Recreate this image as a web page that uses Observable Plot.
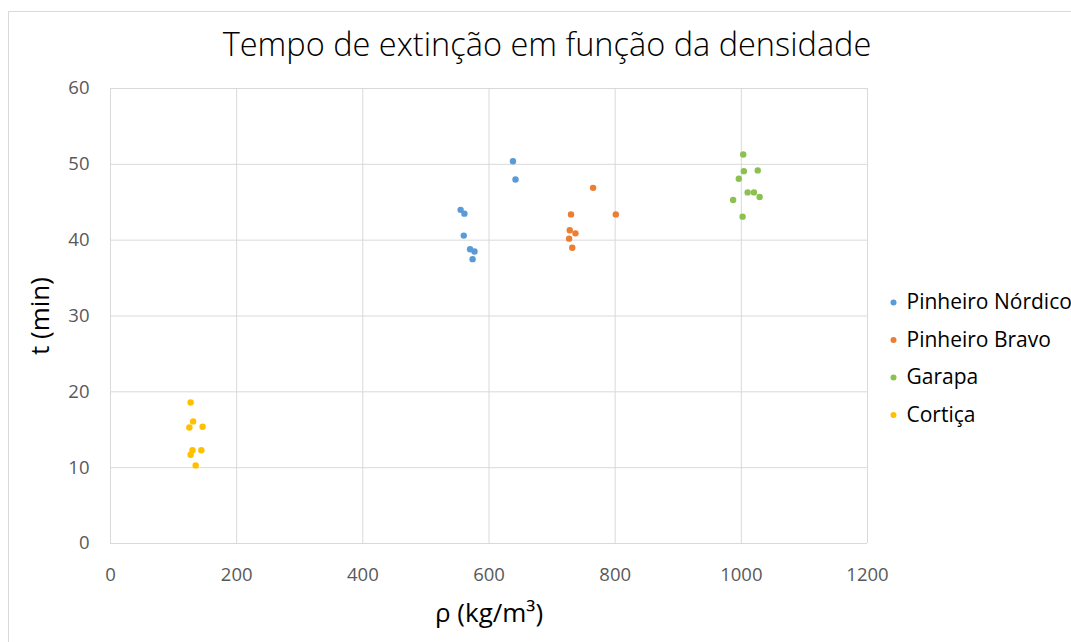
<!DOCTYPE html>
<html>
<head>
<meta charset="utf-8">
<script src="https://cdn.jsdelivr.net/npm/d3@7"></script>
<script src="https://cdn.jsdelivr.net/npm/@observablehq/plot@0.6"></script>
<style>
  html, body { margin: 0; padding: 0; background: #fff; }
  #wrap { position: relative; width: 1071px; height: 642px; overflow: hidden; font-family: "Open Sans", "Noto Sans", sans-serif; }
  #frame { position: absolute; left: 8px; top: 11px; width: 1100px; height: 700px; border-left: 1px solid #d9d9d9; border-top: 1px solid #d9d9d9; }
  #chart { position: absolute; left: 0; top: 0; }
</style>
</head>
<body>
<div id="wrap"><div id="frame"></div><div id="chart"></div></div>
<script>
const title = "Tempo de extinção em função da densidade";
const xLabel = "ρ (kg/m³)";
const yLabel = "t (min)";
const seriesNames = ["Pinheiro Nórdico", "Pinheiro Bravo", "Garapa", "Cortiça"];
const seriesColors = ["#5B9BD5", "#ED7D31", "#8CC152", "#FFC000"];
const xTicks = [0, 200, 400, 600, 800, 1000, 1200];
const yTicks = [0, 10, 20, 30, 40, 50, 60];

const nordicoX = [638, 642, 555, 561, 560, 570, 577, 574];
const nordicoY = [50.4, 48.0, 44.0, 43.5, 40.6, 38.8, 38.5, 37.5];
const bravoX = [765, 730, 801, 728, 737, 727, 732];
const bravoY = [46.9, 43.4, 43.4, 41.3, 40.9, 40.2, 39.0];
const garapaX = [1003, 1004, 1026, 996, 1010, 1020, 1029, 987, 1002];
const garapaY = [51.3, 49.1, 49.2, 48.1, 46.3, 46.3, 45.7, 45.3, 43.1];
const corticaX = [127, 131, 125, 146, 130, 144, 127, 135];
const corticaY = [18.6, 16.1, 15.3, 15.4, 12.3, 12.3, 11.7, 10.3];

const seriesX = [nordicoX, bravoX, garapaX, corticaX];
const seriesY = [nordicoY, bravoY, garapaY, corticaY];
const points = [];
seriesNames.forEach((name, i) => {
  seriesX[i].forEach((x, j) => points.push({series: name, x, y: seriesY[i][j]}));
});

const W = 1071, H = 642;
const mL = 110, mR = W - 867, mT = 88, mB = H - 543;

const legendMarks = [];
seriesNames.forEach((name, i) => {
  const dy = 214 + 37.5 * i;
  legendMarks.push(Plot.dot([name], {frameAnchor: "top-right", dx: 26, dy, fill: seriesColors[i], r: 3, stroke: "none"}));
  legendMarks.push(Plot.text([name], {text: d => d, frameAnchor: "top-right", dx: 39, dy, textAnchor: "start", lineAnchor: "middle", fontSize: 21, fill: "#000"}));
});

const plot = Plot.plot({
  width: W, height: H,
  marginLeft: mL, marginRight: mR, marginTop: mT, marginBottom: mB,
  style: {fontFamily: "'Open Sans', 'Noto Sans', sans-serif", fontSize: "18px", color: "#595959", background: "transparent"},
  x: {domain: [0, 1200], ticks: xTicks, label: null, tickSize: 0, tickPadding: 25},
  y: {domain: [0, 60], ticks: yTicks, label: null, tickSize: 0, tickPadding: 20},
  color: {domain: seriesNames, range: seriesColors},
  marks: [
    Plot.gridX(xTicks, {stroke: "#d9d9d9", strokeOpacity: 1, strokeWidth: 1}),
    Plot.gridY(yTicks, {stroke: "#d9d9d9", strokeOpacity: 1, strokeWidth: 1}),
    Plot.axisX({ticks: xTicks, tickFormat: d3.format("d"), tickSize: 0, tickPadding: 24, fill: "#595959", fontSize: 18.5, label: null}),
    Plot.axisY({ticks: yTicks, tickFormat: d3.format("d"), tickSize: 0, tickPadding: 21, fill: "#595959", fontSize: 18.5, label: null}),
    Plot.dot(points, {x: "x", y: "y", fill: "series", r: 3.2, stroke: "none"}),
    // title
    Plot.text([title], {text: d => d, frameAnchor: "top", lineAnchor: "middle", dx: 58, dy: -43, fontSize: 32.5, fill: "#000", fontWeight: 300}),
    // axis titles
    Plot.text([xLabel], {text: d => d, frameAnchor: "bottom", lineAnchor: "middle", textAnchor: "middle", dy: 70, fontSize: 26, fill: "#000"}),
    Plot.text([yLabel], {text: d => d, frameAnchor: "left", lineAnchor: "middle", textAnchor: "middle", dx: -70, rotate: -90, fontSize: 26, fill: "#000"}),
    ...legendMarks
  ]
});
document.getElementById("chart").appendChild(plot);
</script>
</body>
</html>
